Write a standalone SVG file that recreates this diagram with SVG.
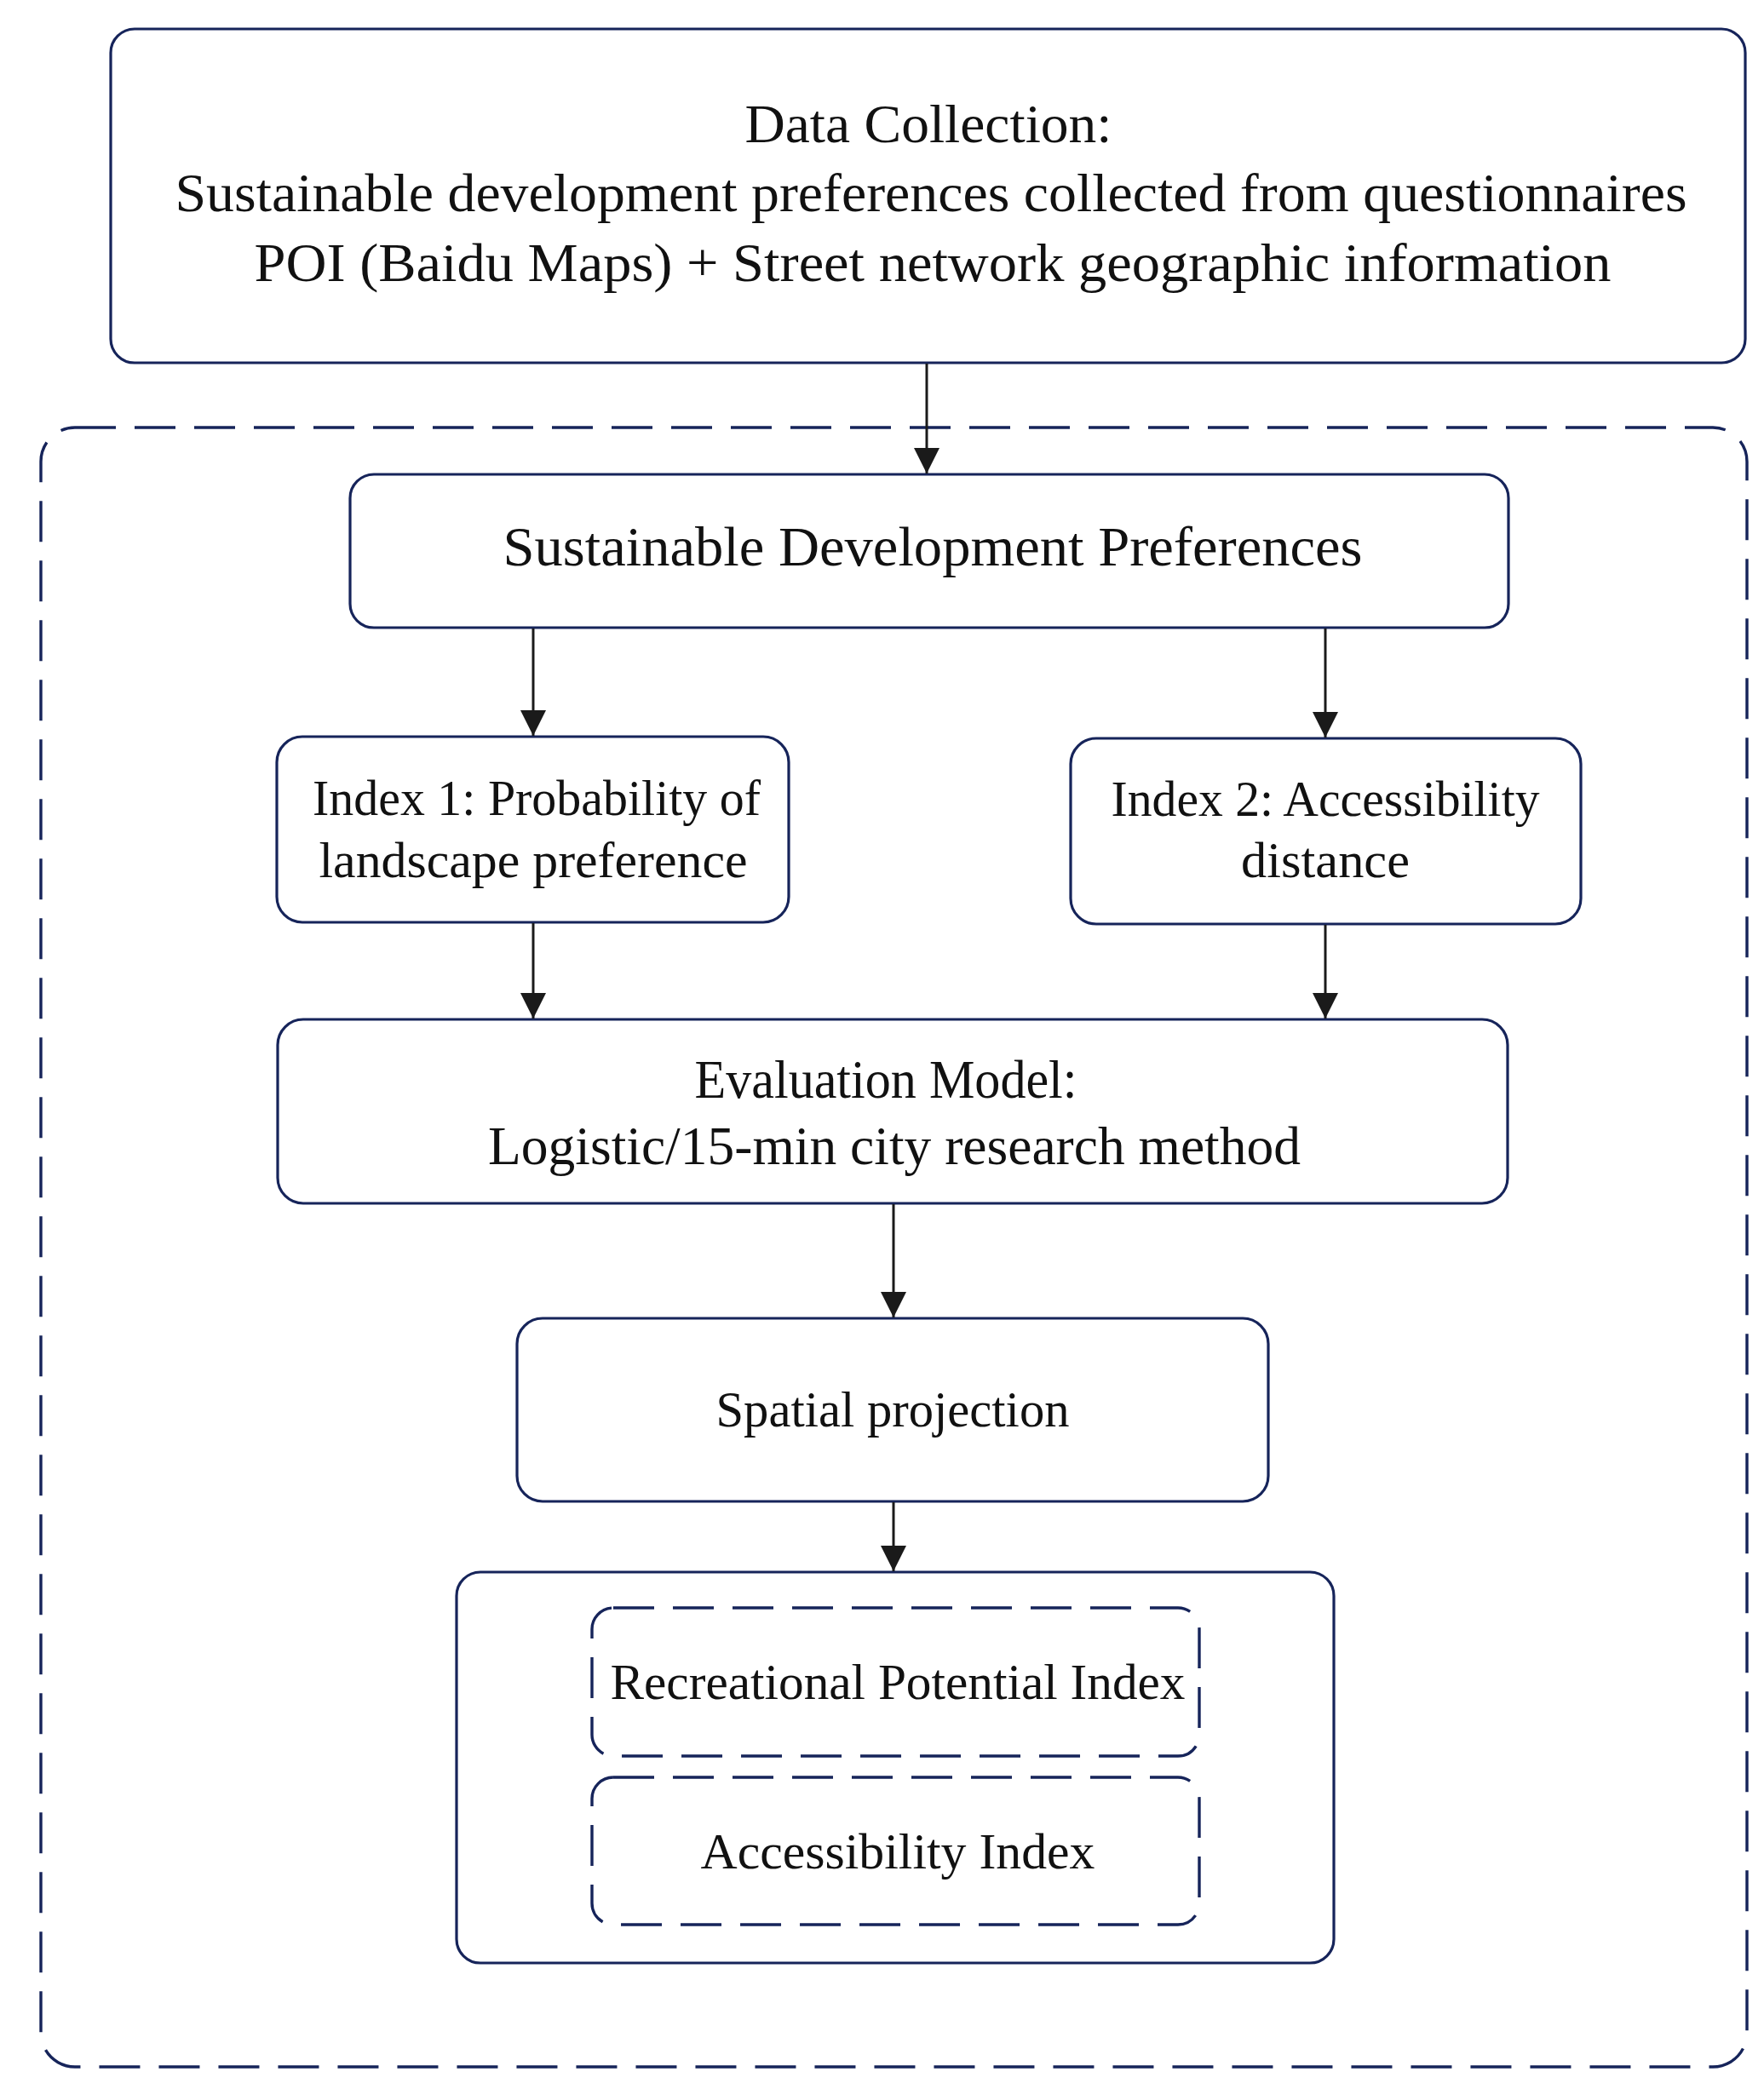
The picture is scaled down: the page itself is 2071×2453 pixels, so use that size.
<svg xmlns="http://www.w3.org/2000/svg" width="2071" height="2453" viewBox="0 0 2071 2453">
  <style>
    .box { fill: #ffffff; stroke: #16245a; stroke-width: 3.2; }
    .dash { fill: none; stroke: #16245a; stroke-width: 3.4; stroke-dasharray: 48 22; }
    .t { font-family: "Liberation Serif", "Times New Roman", serif; fill: #111111; text-anchor: middle; }
    .conn { stroke: #1a1a1a; stroke-width: 3; fill: none; marker-end: url(#arr); }
  </style>
  <defs>
    <marker id="arr" markerUnits="userSpaceOnUse" markerWidth="30" markerHeight="30" viewBox="0 0 26 26" refX="26" refY="13" orient="auto">
      <path d="M0,0 L26,13 L0,26 z" fill="#1a1a1a"/>
    </marker>
  </defs>
  <rect width="2071" height="2453" fill="#ffffff"/>

  <g id="outer-frame">
    <rect class="dash" x="48" y="502" width="2003" height="1925" rx="40" ry="40"/>
  </g>

  <g id="data-collection">
    <rect class="box" x="130" y="34" width="1919" height="392" rx="28" ry="28"/>
    <text class="t" x="1090" y="167" font-size="64" textLength="431" lengthAdjust="spacingAndGlyphs">Data Collection:</text>
    <text class="t" x="1093" y="248" font-size="64" textLength="1775" lengthAdjust="spacingAndGlyphs">Sustainable development preferences collected from questionnaires</text>
    <text class="t" x="1095" y="330" font-size="64" textLength="1593" lengthAdjust="spacingAndGlyphs">POI (Baidu Maps) + Street network geographic information</text>
  </g>

  <g id="sdp">
    <rect class="box" x="411" y="557" width="1360" height="180" rx="28" ry="28"/>
    <text class="t" x="1095" y="664" font-size="66" textLength="1009" lengthAdjust="spacingAndGlyphs">Sustainable Development Preferences</text>
  </g>

  <g id="index1">
    <rect class="box" x="325" y="865" width="601" height="218" rx="30" ry="30"/>
    <text class="t" x="630" y="957" font-size="60" textLength="526" lengthAdjust="spacingAndGlyphs">Index 1: Probability of</text>
    <text class="t" x="626" y="1030" font-size="60" textLength="503" lengthAdjust="spacingAndGlyphs">landscape preference</text>
  </g>

  <g id="index2">
    <rect class="box" x="1257" y="867" width="599" height="218" rx="30" ry="30"/>
    <text class="t" x="1556" y="958" font-size="60" textLength="503" lengthAdjust="spacingAndGlyphs">Index 2: Accessibility</text>
    <text class="t" x="1556" y="1030" font-size="60" textLength="198" lengthAdjust="spacingAndGlyphs">distance</text>
  </g>

  <g id="evaluation">
    <rect class="box" x="326" y="1197" width="1444" height="216" rx="30" ry="30"/>
    <text class="t" x="1040" y="1289" font-size="64" textLength="449" lengthAdjust="spacingAndGlyphs">Evaluation Model:</text>
    <text class="t" x="1050" y="1367" font-size="64" textLength="954" lengthAdjust="spacingAndGlyphs">Logistic/15-min city research method</text>
  </g>

  <g id="spatial">
    <rect class="box" x="607" y="1548" width="882" height="215" rx="30" ry="30"/>
    <text class="t" x="1048" y="1675" font-size="60" textLength="415" lengthAdjust="spacingAndGlyphs">Spatial projection</text>
  </g>

  <g id="output">
    <rect class="box" x="536" y="1846" width="1030" height="459" rx="28" ry="28"/>
  </g>

  <g id="rpi">
    <rect class="dash" x="695" y="1888" width="713" height="174" rx="25" ry="25"/>
    <text class="t" x="1054" y="1995" font-size="60" textLength="675" lengthAdjust="spacingAndGlyphs">Recreational Potential Index</text>
  </g>

  <g id="ai">
    <rect class="dash" x="695" y="2087" width="713" height="173" rx="25" ry="25"/>
    <text class="t" x="1054" y="2194" font-size="60" textLength="463" lengthAdjust="spacingAndGlyphs">Accessibility Index</text>
  </g>

  <g id="connectors">
    <line class="conn" x1="1088" y1="427" x2="1088" y2="556"/>
    <line class="conn" x1="626" y1="738" x2="626" y2="864"/>
    <line class="conn" x1="1556" y1="738" x2="1556" y2="866"/>
    <line class="conn" x1="626" y1="1084" x2="626" y2="1196"/>
    <line class="conn" x1="1556" y1="1086" x2="1556" y2="1196"/>
    <line class="conn" x1="1049" y1="1414" x2="1049" y2="1547"/>
    <line class="conn" x1="1049" y1="1764" x2="1049" y2="1845"/>
  </g>
</svg>
